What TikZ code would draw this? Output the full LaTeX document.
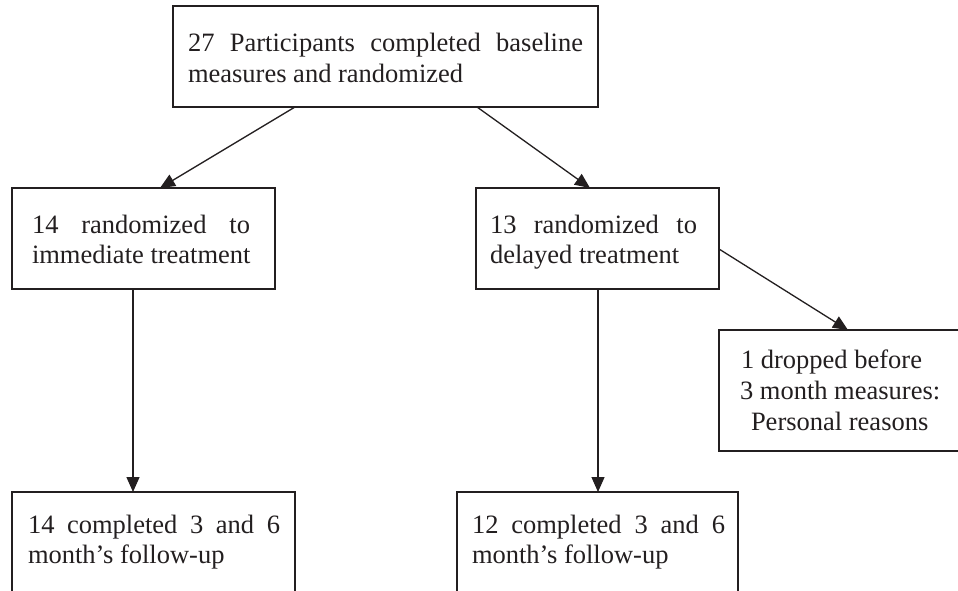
\documentclass[tikz,border=0pt]{standalone}
\usepackage{fontspec}
\setmainfont{Liberation Serif}
\usetikzlibrary{arrows.meta,calc}
\definecolor{ink}{HTML}{231F20}
\tikzset{
  box/.style={draw=ink, line width=1.3pt, rectangle, inner sep=0pt, outer sep=0pt},
  txt/.style={anchor=base west, inner sep=0pt, outer sep=0pt, text=ink,
    font=\fontsize{26.5}{31}\selectfont},
  conn/.style={draw=ink, line width=1.3pt, -{Triangle[length=15pt,width=13pt]}}
}
\begin{document}
\begin{tikzpicture}[x=1pt,y=-1pt]
\useasboundingbox (0,0) rectangle (958,591);
\fill[white] (0,0) rectangle (958,591);
\clip (0,0) rectangle (958,591);
% boxes
\node[box, minimum width=425pt, minimum height=101pt] (top) at (385.5,56.5) {};
\node[box, minimum width=263pt, minimum height=101pt] (L) at (143.5,238.5) {};
\node[box, minimum width=243pt, minimum height=101pt] (M) at (597.5,238.5) {};
\node[box, minimum width=256pt, minimum height=121pt] (R) at (847,390.5) {};
\node[box, minimum width=283pt, minimum height=128pt] (BL) at (153.5,556) {};
\node[box, minimum width=281pt, minimum height=128pt] (BM) at (597.5,556) {};
% texts
\node[txt] (t1) at (188,52) {\makebox[395pt][s]{27 Participants completed baseline}};
\node[txt] (t2) at (188,83) {measures and randomized};
\node[txt] (l1) at (32,233) {\makebox[218pt][s]{14 randomized to}};
\node[txt] (l2) at (32,263) {immediate treatment};
\node[txt] (m1) at (490,233) {\makebox[207pt][s]{13 randomized to}};
\node[txt] (m2) at (490,263) {delayed treatment};
\node[txt] (r1) at (741,368) {1 dropped before};
\node[txt] (r2) at (740,399) {3 month measures:};
\node[txt] (r3) at (751,430) {Personal reasons};
\node[txt] (bl1) at (28,533) {\makebox[252pt][s]{14 completed 3 and 6}};
\node[txt] (bl2) at (28,563) {month’s follow-up};
\node[txt] (bm1) at (472,533) {\makebox[253pt][s]{12 completed 3 and 6}};
\node[txt] (bm2) at (472,563) {month’s follow-up};
% connectors
\draw[conn] ($(top.south west)+(122,0)$) -- ($(L.north west)+(148,0)$);
\draw[conn] ($(top.south west)+(304,0)$) -- ($(M.north west)+(114,0)$);
\draw[conn] ($(L.south west)+(121,0)$) -- ($(BL.north west)+(121,0)$);
\draw[conn] ($(M.south west)+(122,0)$) -- ($(BM.north west)+(141,0)$);
\draw[conn] ($(M.north east)+(0,61)$) -- ($(R.north west)+(129,0)$);
\end{tikzpicture}
\end{document}
